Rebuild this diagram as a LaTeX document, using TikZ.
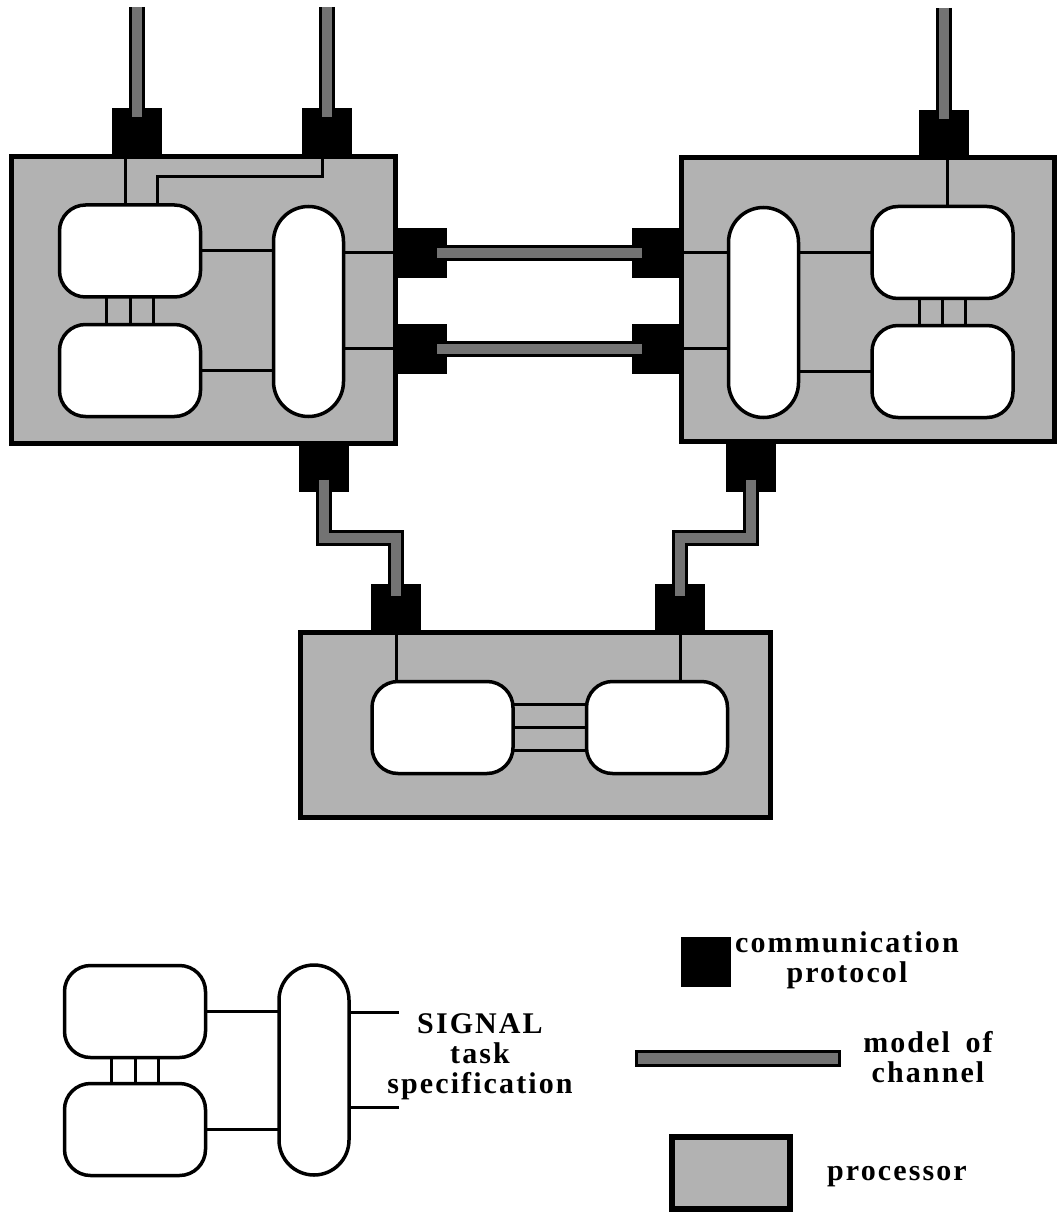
\documentclass[tikz,border=0pt]{standalone}
\usepackage{fontspec}
\setmainfont{Liberation Serif}
\newfontfamily\labelfont{Liberation Serif}[LetterSpace=7]
\usetikzlibrary{calc}

\begin{document}
\begin{tikzpicture}[x=1pt,y=-1pt,
    proc/.style={draw, line width=5pt, fill=black!30, inner sep=0pt, outer sep=0pt},
    prot/.style={fill=black, inner sep=0pt, outer sep=0pt, minimum width=50pt, minimum height=48pt},
    task/.style={draw, line width=3.5pt, fill=white, rounded corners=26pt, inner sep=0pt, outer sep=0pt, minimum width=141pt, minimum height=92pt},
    pill/.style={draw, line width=3.5pt, fill=white, rounded corners=35pt, inner sep=0pt, outer sep=0pt, minimum width=70pt, minimum height=210pt},
    wire/.style={line width=3pt},
    chan/.style={line width=3pt, double=black!55, double distance=10pt},
    lbl/.style={font=\labelfont\bfseries\fontsize{30}{30}\selectfont, align=center, inner sep=0pt}]
    \useasboundingbox (0,0) rectangle (1060,1214);

    % Processors
    \node[proc, minimum width=384pt, minimum height=286pt] (P1) at (203,300) {};
    \node[proc, minimum width=373pt, minimum height=283pt] (P2) at (867.5,299.5) {};
    \node[proc, minimum width=470pt, minimum height=185pt] (P3) at (535,724.5) {};

    % Protocols
    \node[prot] (pa) at (136.5,132) {};
    \node[prot] (pb) at (327,132) {};
    \node[prot] (pc) at (943.5,134) {};
    \node[prot, minimum height=50pt] (pr1) at (422,253) {};
    \node[prot, minimum height=50pt] (pr2) at (422,348.5) {};
    \node[prot, minimum height=50pt] (pl1) at (657,253) {};
    \node[prot, minimum height=50pt] (pl2) at (657,348.5) {};
    \node[prot] (pd) at (324,467.5) {};
    \node[prot] (pg) at (751,467.5) {};
    \node[prot] (pe) at (396,608) {};
    \node[prot] (pf) at (680,608) {};

    % Tasks
    \node[task] (t1) at (130,251) {};
    \node[task] (t2) at (130,370.5) {};
    \node[pill] (s1) at (308.5,311.5) {};
    \node[pill] (s2) at (763.5,312.5) {};
    \node[task] (t3) at (942.5,252.5) {};
    \node[task] (t4) at (942.5,371.5) {};
    \node[task] (t5) at (442.5,727.5) {};
    \node[task] (t6) at (657,727.5) {};

    % Wires of the first processor
    \draw[wire] (t1.east) -- (t1.east -| s1.west);
    \draw[wire] (t2.east) -- (t2.east -| s1.west);
    \draw[wire] (s1.east |- pr1) -- (pr1.west);
    \draw[wire] (s1.east |- pr2) -- (pr2.west);
    \foreach \dx in {-24,0,23}
        \draw[wire] ([xshift=\dx]t1.south) -- ([xshift=\dx]t2.north);
    \coordinate (k1) at ([xshift=-5]t1.north);
    \draw[wire] (k1 |- pa.south) -- (k1);
    \coordinate (k2) at ([xshift=27]t1.north);
    \draw[wire] ([xshift=-5]pb.south) -- ++(0,21) -| (k2);

    % Wires of the second processor
    \draw[wire] (pl1.east) -- (pl1.east -| s2.west);
    \draw[wire] (pl2.east) -- (pl2.east -| s2.west);
    \draw[wire] (s2.east |- t3.west) -- (t3.west);
    \draw[wire] (s2.east |- t4.west) -- (t4.west);
    \foreach \dx in {-23,0,23}
        \draw[wire] ([xshift=\dx]t3.south) -- ([xshift=\dx]t4.north);
    \coordinate (k3) at ([xshift=5]t3.north);
    \draw[wire] (k3 |- pc.south) -- (k3);

    % Wires of the third processor
    \draw[wire] (pe.south) -- (pe.south |- t5.north);
    \draw[wire] (pf.south) -- (pf.south |- t6.north);
    \foreach \dy in {-23,0,23}
        \draw[wire] ([yshift=\dy]t5.east) -- ([yshift=\dy]t6.west);

    % Channels
    \coordinate (c1) at (136.5,7);
    \coordinate (c2) at (327,7);
    \coordinate (c3) at (943.5,8);
    \draw[chan] (c1) -- ([yshift=-9]pa.north);
    \draw[chan] (c2) -- ([yshift=-9]pb.north);
    \draw[chan] (c3) -- ([yshift=-9]pc.north);
    \draw[chan] ([xshift=-10]pr1.east) -- ([xshift=10]pl1.west);
    \draw[chan] ([xshift=-10]pr2.east) -- ([xshift=10]pl2.west);
    \draw[chan] ([yshift=12]pd.south) |- ($(pd.south)!.5!(pe.north)$) -| ([yshift=-12]pe.north);
    \draw[chan] ([yshift=12]pg.south) |- ($(pg.south)!.5!(pf.north)$) -| ([yshift=-12]pf.north);

    % Legend: task
    \node[task] (l1) at (135,1011.5) {};
    \node[task] (l2) at (135,1129.5) {};
    \node[pill] (l3) at (314,1070) {};
    \draw[wire] (l1.east) -- (l1.east -| l3.west);
    \draw[wire] (l2.east) -- (l2.east -| l3.west);
    \foreach \dx in {-24,0,23}
        \draw[wire] ([xshift=\dx]l1.south) -- ([xshift=\dx]l2.north);
    \coordinate (g1) at (399,1012);
    \coordinate (g2) at (399,1107);
    \draw[wire] (g1 -| l3.east) -- (g1);
    \draw[wire] (g2 -| l3.east) -- (g2);
    \node[lbl, anchor=base] (sig) at (480,1093) {SIGNAL\\task\\specification};

    % Legend: protocol, channel, processor
    \node[prot, minimum height=50pt] (lp) at (705.5,962) {};
    \node[lbl, anchor=base] (lpt) at (847,982) {communication\\protocol};
    \node[draw, line width=3pt, fill=black!55, inner sep=0pt, minimum width=203pt, minimum height=14pt] (lch) at (738,1058.5) {};
    \node[lbl, anchor=base] (lcht) at (928,1082) {model\hspace{6pt} of\\channel};
    \node[proc, line width=6pt, minimum width=118pt, minimum height=72pt] (lpr) at (731,1173) {};
    \node[lbl, anchor=base] (lprt) at (897,1180) {processor};
\end{tikzpicture}
\end{document}
